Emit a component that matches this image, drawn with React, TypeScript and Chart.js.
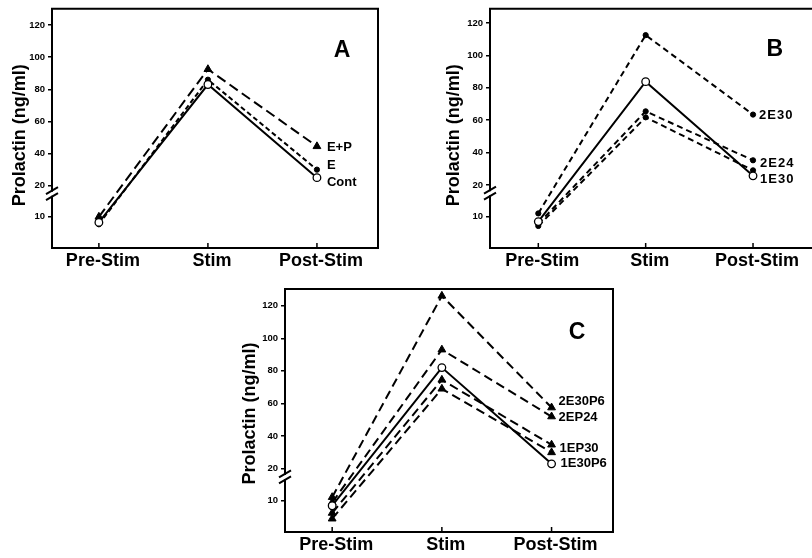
import React, { useEffect, useRef } from "react";
import { Chart, registerables } from "chart.js";
Chart.register(...registerables);

// ---------- data ----------
const categories = ["Pre-Stim", "Stim", "Post-Stim"];
const yTickValues = [10, 20, 40, 60, 80, 100, 120];

// Panel A
const aCont = [8.2, 83, 25];
const aE = [7.6, 86, 30];
const aEP = [10, 92.5, 44.5];

// Panel B
const b1E30 = [8.4, 83.8, 25.7];
const b2E30 = [11, 112.5, 63.5];
const b2E24 = [7.7, 65.5, 35.3];
const bOther = [7.0, 61.8, 29.1];

// Panel C
const c1E30P6 = [8.3, 82, 23];
const c2E30P6 = [11, 126, 57.5];
const c2EP24 = [9.3, 93, 52];
const c1EP30 = [6, 74.5, 34.7];
const cOther = [4.2, 69, 30];

// ---------- broken axis transform ----------
const BREAK = 20;
const LOW_K = 1.94;
const toD = (v: number) => (v <= BREAK ? v * LOW_K : BREAK * LOW_K + (v - BREAK));

const FONT = "'Liberation Sans', Arial, Helvetica, sans-serif";

type Series = {
  name: string;
  data: number[];
  dash: number[];
  marker: "open" | "dot" | "tri";
  dx: number;
  dy: number;
};

type PanelCfg = {
  left: number;
  top: number;
  w: number;
  h: number;
  area: { l: number; t: number; r: number; b: number };
  xMin: number;
  xMax: number;
  yMax: number;
  letter: string;
  letterDx: number;
  letterDy: number;
  titleDx: number;
  titleDy: number;
  showRight: boolean;
  labelSpacing: string;
  series: Series[];
};

const SHORT = [6, 4];
const LONG = [10, 5];
const MID = [9, 5];

const panels: PanelCfg[] = [
  {
    left: 0, top: 0, w: 400, h: 280,
    area: { l: 52, t: 5, r: 378, b: 248 },
    xMin: -0.43, xMax: 2.56, yMax: 149,
    letter: "A", letterDx: 36, letterDy: 42, titleDx: 32, titleDy: 7,
    showRight: true, labelSpacing: "0px",
    series: [
      { name: "Cont", data: aCont, dash: [], marker: "open", dx: 10, dy: 5 },
      { name: "E", data: aE, dash: [5, 3], marker: "dot", dx: 10, dy: -4 },
      { name: "E+P", data: aEP, dash: LONG, marker: "tri", dx: 10, dy: 1 },
    ],
  },
  {
    left: 400, top: 0, w: 412, h: 280,
    area: { l: 90, t: 7, r: 411, b: 248 },
    xMin: -0.45, xMax: 2.5, yMax: 147.6,
    letter: "B", letterDx: 32, letterDy: 41, titleDx: 36, titleDy: 7,
    showRight: false, labelSpacing: "1px",
    series: [
      { name: "1E30", data: b1E30, dash: [], marker: "open", dx: 7, dy: 4 },
      { name: "2E30", data: b2E30, dash: SHORT, marker: "dot", dx: 6, dy: 1 },
      { name: "2E24", data: b2E24, dash: SHORT, marker: "dot", dx: 7, dy: 3 },
      { name: "", data: bOther, dash: SHORT, marker: "dot", dx: 0, dy: 0 },
    ],
  },
  {
    left: 230, top: 280, w: 400, h: 278,
    area: { l: 55, t: 9, r: 383, b: 252 },
    xMin: -0.43, xMax: 2.56, yMax: 149,
    letter: "C", letterDx: 36, letterDy: 44, titleDx: 35, titleDy: 3,
    showRight: true, labelSpacing: "0px",
    series: [
      { name: "1E30P6", data: c1E30P6, dash: [], marker: "open", dx: 9, dy: 0 },
      { name: "2E30P6", data: c2E30P6, dash: MID, marker: "tri", dx: 7, dy: -6 },
      { name: "2EP24", data: c2EP24, dash: MID, marker: "tri", dx: 7, dy: 1 },
      { name: "1EP30", data: c1EP30, dash: MID, marker: "tri", dx: 8, dy: 4 },
      { name: "", data: cOther, dash: MID, marker: "tri", dx: 0, dy: 0 },
    ],
  },
];

const decorPlugin = {
  id: "decor",
  afterDraw(chart: any, _args: any, opts: any) {
    const cfg: PanelCfg = opts.cfg;
    if (!cfg) return;
    const ctx: CanvasRenderingContext2D = chart.ctx;
    const { left, right, top, bottom } = chart.chartArea;
    const xs = chart.scales.x;
    const ys = chart.scales.y;
    ctx.save();
    ctx.strokeStyle = "#000";
    ctx.fillStyle = "#000";
    ctx.lineWidth = 2;
    ctx.lineCap = "square";
    ctx.setLineDash([]);

    // frame
    const gapC = ys.getPixelForValue(toD(BREAK) - 5);
    const g1 = gapC - 3;
    const g2 = gapC + 3;
    ctx.beginPath();
    ctx.moveTo(left, bottom);
    ctx.lineTo(left, g2);
    ctx.moveTo(left, g1);
    ctx.lineTo(left, top);
    ctx.lineTo(cfg.showRight ? right : chart.width, top);
    if (cfg.showRight) {
      ctx.lineTo(right, bottom);
    }
    ctx.moveTo(left, bottom);
    ctx.lineTo(cfg.showRight ? right : chart.width, bottom);
    ctx.stroke();

    // break slashes
    ctx.lineCap = "butt";
    ctx.beginPath();
    ctx.moveTo(left - 6, g1 + 3.5);
    ctx.lineTo(left + 6, g1 - 3.5);
    ctx.moveTo(left - 6, g2 + 3.5);
    ctx.lineTo(left + 6, g2 - 3.5);
    ctx.stroke();

    // x ticks pointing up
    ctx.lineWidth = 1.5;
    ctx.beginPath();
    categories.forEach((_, i) => {
      const px = xs.getPixelForValue(i);
      ctx.moveTo(px, bottom);
      ctx.lineTo(px, bottom - 5);
    });
    ctx.stroke();

    // panel letter
    ctx.font = `bold 23px ${FONT}`;
    ctx.textAlign = "center";
    ctx.textBaseline = "middle";
    ctx.fillText(cfg.letter, right - cfg.letterDx, top + cfg.letterDy);

    // y title
    ctx.save();
    ctx.translate(left - cfg.titleDx, (top + bottom) / 2 + cfg.titleDy);
    ctx.rotate(-Math.PI / 2);
    ctx.font = `bold 18px ${FONT}`;
    ctx.fillText("Prolactin (ng/ml)", 0, 0);
    ctx.restore();

    // series labels
    ctx.font = `bold 13px ${FONT}`;
    ctx.textAlign = "left";
    ctx.textBaseline = "middle";
    (ctx as any).letterSpacing = cfg.labelSpacing;
    cfg.series.forEach((s, i) => {
      if (!s.name) return;
      const meta = chart.getDatasetMeta(i);
      const pt = meta.data[meta.data.length - 1];
      ctx.fillText(s.name, pt.x + s.dx, pt.y + s.dy);
    });
    ctx.restore();
  },
};

function buildConfig(cfg: PanelCfg): any {
  const datasets = cfg.series.map((s) => ({
    data: s.data.map((v, i) => ({ x: i, y: toD(v) })),
    borderColor: "#000",
    borderWidth: 2,
    borderDash: s.dash,
    tension: 0,
    fill: false,
    pointStyle: s.marker === "tri" ? "triangle" : "circle",
    pointRadius: s.marker === "open" ? 3.8 : s.marker === "tri" ? 4.5 : 2.6,
    pointBackgroundColor: s.marker === "open" ? "#fff" : "#000",
    pointBorderColor: "#000",
    pointBorderWidth: s.marker === "open" ? 1.3 : 1,
  }));
  const yW = cfg.area.l;
  const xH = cfg.h - cfg.area.b;
  return {
    type: "line",
    data: { datasets },
    plugins: [decorPlugin],
    options: {
      responsive: false,
      maintainAspectRatio: false,
      animation: false,
      events: [],
      layout: { padding: { left: 0, top: cfg.area.t, right: cfg.w - cfg.area.r, bottom: 0 } },
      plugins: {
        legend: { display: false },
        tooltip: { enabled: false },
        decor: { cfg },
      },
      scales: {
        x: {
          type: "linear",
          min: cfg.xMin,
          max: cfg.xMax,
          afterBuildTicks: (scale: any) => {
            scale.ticks = categories.map((_, i) => ({ value: i }));
          },
          afterFit: (scale: any) => {
            scale.height = xH;
          },
          grid: { display: false, drawTicks: false },
          border: { display: false },
          ticks: {
            autoSkip: false,
            maxRotation: 0,
            padding: 2,
            labelOffset: 4,
            color: "#000",
            font: { family: FONT, size: 18, weight: "bold" },
            callback: (_v: any, i: number) => categories[i],
          },
        },
        y: {
          type: "linear",
          min: 0,
          max: cfg.yMax,
          afterBuildTicks: (scale: any) => {
            scale.ticks = yTickValues.map((v) => ({ value: toD(v) }));
          },
          afterFit: (scale: any) => {
            scale.width = yW;
          },
          grid: {
            display: true,
            drawOnChartArea: false,
            drawTicks: true,
            tickLength: 4,
            color: "#000",
            lineWidth: 1.5,
          },
          border: { display: false },
          ticks: {
            autoSkip: false,
            padding: 3,
            color: "#000",
            font: { family: FONT, size: 9.5, weight: "bold" },
            callback: (_v: any, i: number) => String(yTickValues[i]),
          },
        },
      },
    },
  };
}

function Panel({ cfg }: { cfg: PanelCfg }) {
  const ref = useRef<HTMLCanvasElement | null>(null);
  useEffect(() => {
    if (!ref.current) return;
    const chart = new Chart(ref.current, buildConfig(cfg));
    return () => chart.destroy();
  }, [cfg]);
  return (
    <canvas
      ref={ref}
      width={cfg.w}
      height={cfg.h}
      style={{
        position: "absolute",
        left: cfg.left,
        top: cfg.top,
        width: cfg.w,
        height: cfg.h,
        display: "block",
      }}
    />
  );
}

export default function App() {
  return (
    <div style={{ position: "absolute", left: 0, top: 0, width: 812, height: 558, background: "#fff", overflow: "hidden" }}>
      {panels.map((p) => (
        <Panel key={p.letter} cfg={p} />
      ))}
    </div>
  );
}
